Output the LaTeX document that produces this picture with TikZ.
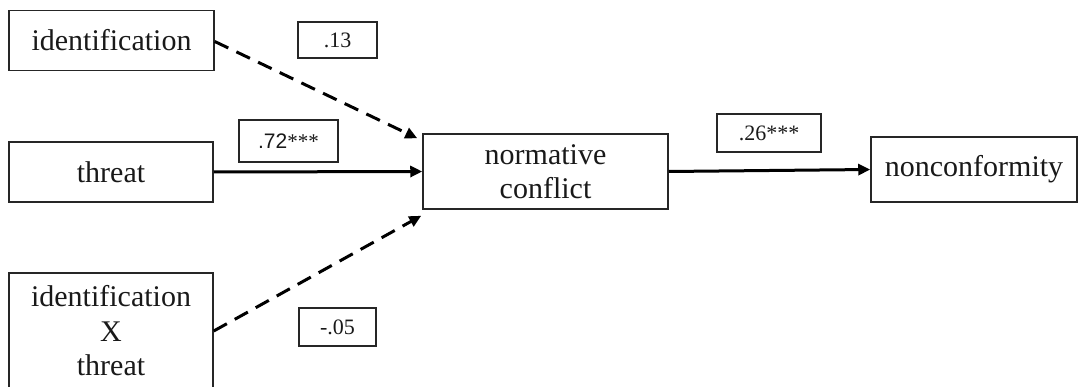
\documentclass[tikz,border=0pt]{standalone}
\usepackage{fontspec}
\setmainfont{Liberation Serif}
\newfontfamily\sansf{Liberation Sans}
\usetikzlibrary{arrows.meta,calc}
\tikzset{
  varbox/.style={draw=black!85, line width=1.5pt, inner sep=0pt, align=center,
    font=\fontsize{30}{34.5}\selectfont, text=black!90},
  coefbox/.style={draw=black!85, line width=1.5pt, inner sep=0pt, align=center,
    font=\fontsize{22}{26}\selectfont, text=black!90},
  solidarrow/.style={line width=3pt, -{Triangle[length=12pt,width=11pt]}},
  dasharrow/.style={line width=3pt, dash pattern=on 15pt off 9pt, -{Triangle[length=12pt,width=11pt]}}
}
\begin{document}
\begin{tikzpicture}[x=1pt,y=-1pt]
\useasboundingbox (0,0) rectangle (1078,387);
\clip (0,0) rectangle (1078,387);
\node[varbox, minimum width=205pt, minimum height=60pt] (idn) at (111.5,40.5) {identification};
\node[varbox, minimum width=204pt, minimum height=60pt] (thr) at (111,172) {threat};
\node[varbox, minimum width=204pt, minimum height=116pt] (ixt) at (111,331) {identification\\X\\threat};
\node[varbox, minimum width=245pt, minimum height=75pt] (nc) at (545.5,171.5) {normative\\conflict};
\node[varbox, minimum width=206pt, minimum height=65pt] (ncf) at (974,169.5) {nonconformity};
\node[coefbox, minimum width=79pt, minimum height=36pt] (l13) at (337.5,40) {.13};
\node[coefbox, minimum width=99pt, minimum height=42pt, font=\fontsize{21}{26}\selectfont] (l72) at (288.5,141) {{\sansf .72}***};
\node[coefbox, minimum width=77pt, minimum height=38pt] (l05) at (337.5,327) {-.05};
\node[coefbox, minimum width=104pt, minimum height=38pt] (l26) at (769,133) {.26***};
\coordinate (t1) at ($(nc.north west)+(-5,5)$);
\coordinate (t3) at ($(nc.south west)+(-1,6)$);
\draw[dasharrow] ($(idn.east)+(0,1)$) -- (t1);
\draw[solidarrow] (thr.east) -- (nc.west);
\draw[dasharrow] (ixt.east) -- (t3);
\draw[solidarrow] (nc.east) -- (ncf.west);
\end{tikzpicture}
\end{document}
